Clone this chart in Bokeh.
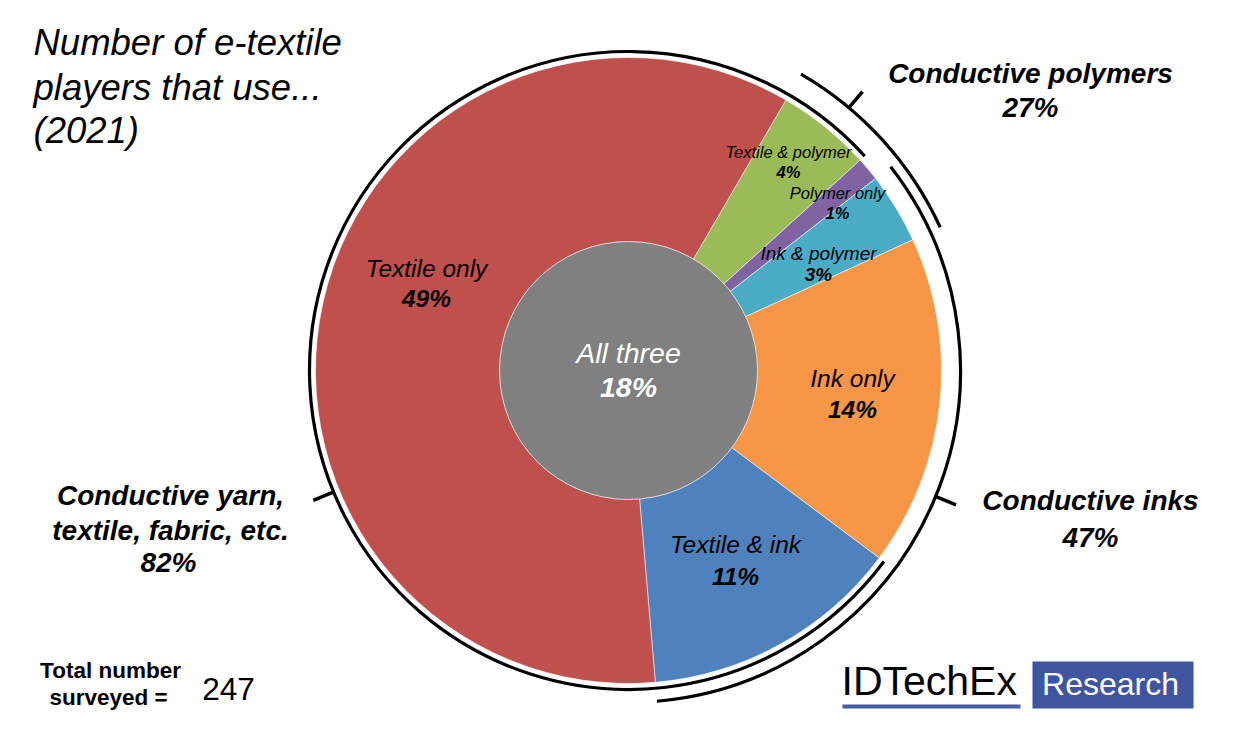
import numpy as np
from bokeh.plotting import figure
from bokeh.models import Range1d
from bokeh.core.properties import value
from bokeh.embed import file_html
from bokeh.resources import INLINE

# ---------------- data ----------------
segments = ["Textile & polymer", "Polymer only", "Ink & polymer", "Ink only", "Textile & ink", "Textile only"]
shares = [4, 1, 3, 14, 11, 49]
seg_colors = ["#9BBB59", "#8064A2", "#4BACC6", "#F79646", "#4F81BD", "#C0504D"]
all_three_label = "All three"
all_three = 18
groups = ["Conductive polymers", "Conductive inks", "Conductive yarn, textile, fabric, etc."]
group_shares = [27, 47, 82]
total_surveyed = 247

# ---------------- layout helpers ----------------
W, H = 1254, 739
def Y(py):
    return H - py

CX, CY = 628, Y(370)
R_OUT, R_IN = 313, 129
START = 30.2  # clockwise from top, degrees

p = figure(width=1238, height=723, x_range=Range1d(0, 1238), y_range=Range1d(16, 739),
           output_backend="svg", toolbar_location=None, min_border=0)
p.axis.visible = False
p.grid.visible = False
p.outline_line_color = None
p.background_fill_color = "white"

FONT = value("Liberation Sans")

# angles (clockwise from top)
ring_total = float(sum(shares))
spans = np.array(shares) / ring_total * 360.0
ends = START + np.cumsum(spans)
starts = ends - spans

def bk(theta):
    return float(np.radians(90.0 - theta))

p.wedge(x=CX, y=CY, radius=R_OUT, start_angle=[bk(s) for s in starts], end_angle=[bk(e) for e in ends],
        direction="clock", fill_color=seg_colors, line_color="white", line_width=0.8,
        line_alpha=0.7)
p.circle(x=[CX], y=[CY], radius=R_IN, fill_color="#808080", line_color="#dddddd", line_width=1)

# group arcs: polymers = segs 0,1,2 ; inks = 2,3,4 ; textile = 4,5,0
def arc(t0, t1, r):
    p.arc(x=CX, y=CY, radius=r, start_angle=bk(t0), end_angle=bk(t1),
          direction="clock", line_color="black", line_width=3.2)

arc(starts[0], ends[2], 343)          # polymers
arc(starts[2], ends[4], 332)          # inks
arc(starts[4], ends[0] + 360, 319)    # textile

def tick(theta, r0, r1):
    t = np.radians(theta)
    p.segment(x0=CX + r0 * np.sin(t), y0=CY + r0 * np.cos(t), x1=CX + r1 * np.sin(t), y1=CY + r1 * np.cos(t),
              line_color="black", line_width=3.5)

tick(40.0, 344, 364)
tick(112.3, 333, 354)
tick(247.6, 320, 341)

BASE_FIX = 0.36  # empirical shift of the rendered baseline, in em

def txt(x, py, s, size, style="normal", color="black", align="center", font=FONT):
    p.text(x=[x], y=[Y(py) + BASE_FIX * size], text=[s], text_font=font, text_font_size=f"{size}px",
           text_font_style=style, text_color=color, text_align=align, text_baseline="alphabetic")

# title
for i, line in enumerate(["Number of e-textile", "players that use...", "(2021)"]):
    txt(33, [55, 100, 143][i], line, 36.5, "italic", align="left")

# segment labels
seg_label_pos = {
    "Textile only": (426, 277, 307, 24.5),
    "Textile & polymer": (788, 157, 177, 16.5),
    "Polymer only": (837, 198, 218, 16.5),
    "Ink & polymer": (818, 260, 281, 19),
    "Ink only": (852, 387, 418, 24.5),
    "Textile & ink": (735, 553, 585, 24.5),
}
for name, val in zip(segments, shares):
    x, b1, b2, fs = seg_label_pos[name]
    txt(x, b1, name, fs, "italic")
    txt(x, b2, f"{val}%", fs, "bold italic")

txt(628, 363, all_three_label, 28.5, "italic", color="white")
txt(628, 397, f"{all_three}%", 28.5, "bold italic", color="white")

# group labels
txt(1030, 83, groups[0], 28, "bold italic")
txt(1030, 117, f"{group_shares[0]}%", 28, "bold italic")
txt(1090, 510, groups[1], 28, "bold italic")
txt(1090, 547, f"{group_shares[1]}%", 28, "bold italic")
txt(170, 505, "Conductive yarn,", 28, "bold italic")
txt(170, 540, "textile, fabric, etc.", 28, "bold italic")
txt(168, 572, f"{group_shares[2]}%", 28, "bold italic")

# total
txt(110, 678, "Total number", 22.5, "bold")
txt(108, 705, "surveyed =", 22.5, "bold")
txt(228, 700, str(total_surveyed), 31.5, "normal")

# logo
txt(841, 695, "IDTechEx", 41, "normal", align="left")
p.quad(left=[842], right=[1020], bottom=[Y(708)], top=[Y(704)], fill_color="#4A5DA6", line_color=None)
p.quad(left=[1032], right=[1193], bottom=[Y(708)], top=[Y(661)], fill_color="#3F55A0", line_color=None)
txt(1110, 695, "Research", 32, "normal", color="white")

open("out.html", "w").write(file_html(p, INLINE))
